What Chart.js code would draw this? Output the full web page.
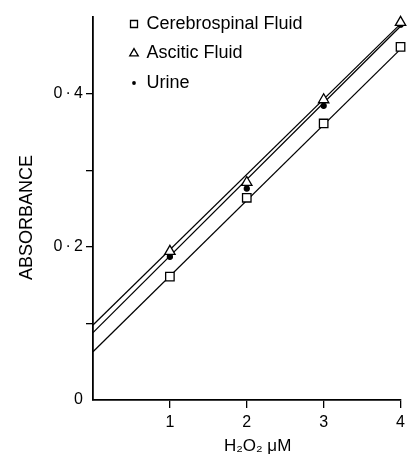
<!DOCTYPE html>
<html>
<head>
<meta charset="utf-8">
<script src="https://cdn.jsdelivr.net/npm/chart.js@4.4.1/dist/chart.umd.min.js"></script>
<style>
html, body { margin: 0; padding: 0; background: #fff; }
#wrap { width: 410px; height: 457px; position: relative; }
</style>
</head>
<body>
<div id="wrap"><canvas id="graph1"></canvas></div>
<script>
// H2O2 concentration (uM)
var concentrations = [1, 2, 3, 4];

// absorbance, per fluid
var csf = [0.161, 0.264, 0.361, 0.461];
var ascitic = [0.194, 0.284, 0.392, 0.493];
var urine = [0.187, 0.276, 0.384, 0.490];

// fitted lines, value at x = 0 and x = 4
var lineX = [0, 4];
var csfLine = [0.063, 0.458];
var asciticLine = [0.098, 0.491];
var urineLine = [0.088, 0.488];

var seriesNames = ["Cerebrospinal Fluid", "Ascitic Fluid", "Urine"];

// axes
var xTicks = [1, 2, 3, 4];
var xTickLabels = ["1", "2", "3", "4"];
var yTicks = [0, 0.1, 0.2, 0.3, 0.4];
var yTickLabels = ["0", "", "0\u2009\u00b7\u20092", "", "0\u2009\u00b7\u20094"];

function toPoints(xs, ys) {
    return xs.map(function (x, i) { return { x: x, y: ys[i] }; });
}

//petit point noir pour la légende "Urine"
var dotMark = document.createElement("canvas");
dotMark.width = 6;
dotMark.height = 6;
var dctx = dotMark.getContext("2d");
dctx.fillStyle = "#000";
dctx.beginPath();
dctx.arc(3, 3, 1.9, 0, 2 * Math.PI);
dctx.fill();

function pointSet(label, ys, style, radius, fill) {
    return {
        label: label,
        data: toPoints(concentrations, ys),
        showLine: false,
        pointStyle: style,
        pointRadius: radius,
        pointHoverRadius: radius,
        pointBackgroundColor: fill,
        pointBorderColor: "#000",
        pointBorderWidth: 1.3,
        backgroundColor: fill,
        borderColor: "#000",
        borderWidth: 1.3,
        clip: false
    };
}

function lineSet(label, ys) {
    return {
        label: label,
        data: toPoints(lineX, ys),
        showLine: true,
        pointRadius: 0,
        borderColor: "#000",
        borderWidth: 1.25,
        clip: false
    };
}

// legend placed inside the plot, top left
var legendSpot = {
    id: "legendSpot",
    afterLayout: function (chart) {
        chart.legend.left = 119;
        chart.legend.top = 3.5;
    }
};

Chart.defaults.font.family = "'Liberation Sans', Arial, sans-serif";
Chart.defaults.color = "#000";

var ctx = document.getElementById("graph1").getContext("2d");
const myChart = new Chart(ctx, {
    type: "scatter",
    data: {
        datasets: [
            pointSet(seriesNames[0], csf, "rect", 6, "#fff"),
            pointSet(seriesNames[1], ascitic, "triangle", 6, "#fff"),
            pointSet(seriesNames[2], urine, "circle", 2.5, "#000"),
            lineSet("csf fit", csfLine),
            lineSet("ascitic fit", asciticLine),
            lineSet("urine fit", urineLine)
        ]
    },
    plugins: [legendSpot],
    options: {
        responsive: true,
        maintainAspectRatio: false,
        animation: false,
        layout: { padding: { left: 0, right: 6, top: 17, bottom: 0 } },
        plugins: {
            tooltip: { enabled: false },
            legend: {
                position: "chartArea",
                align: "start",
                labels: {
                    usePointStyle: true,
                    boxWidth: 7,
                    boxHeight: 7,
                    padding: 11.5,
                    color: "#000",
                    font: { size: 18 },
                    generateLabels: function (chart) {
                        var items = Chart.defaults.plugins.legend.labels.generateLabels(chart).slice(0, 3);
                        items[2].pointStyle = dotMark;
                        return items;
                    }
                }
            }
        },
        scales: {
            x: {
                type: "linear",
                min: 0,
                max: 4,
                afterBuildTicks: function (scale) {
                    scale.ticks = xTicks.map(function (v) { return { value: v }; });
                },
                afterFit: function (scale) { scale.height = 57; },
                ticks: {
                    autoSkip: false,
                    maxRotation: 0,
                    padding: 5,
                    font: { size: 16 },
                    color: "#000",
                    callback: function (value, index) { return xTickLabels[index]; }
                },
                grid: {
                    drawOnChartArea: false,
                    drawTicks: true,
                    tickLength: 8,
                    color: "#000",
                    lineWidth: 1.3
                },
                border: { display: true, color: "#000", width: 1.8 },
                title: {
                    display: true,
                    text: "\u2002\u2002 H\u2082O\u2082 \u03bcM",
                    font: { size: 17 },
                    color: "#000",
                    padding: { top: 0, bottom: 0 }
                }
            },
            y: {
                type: "linear",
                min: 0,
                max: 0.5,
                afterBuildTicks: function (scale) {
                    scale.ticks = yTicks.map(function (v) { return { value: v }; });
                },
                afterFit: function (scale) { scale.width = 93; },
                ticks: {
                    autoSkip: false,
                    padding: 3,
                    font: { size: 16 },
                    color: "#000",
                    callback: function (value, index) { return yTickLabels[index]; }
                },
                grid: {
                    drawOnChartArea: false,
                    drawTicks: true,
                    tickLength: 7,
                    lineWidth: 1.3,
                    color: function (c) {
                        return c.tick && c.tick.value === 0 ? "rgba(0,0,0,0)" : "#000";
                    }
                },
                border: { display: true, color: "#000", width: 1.8 },
                title: {
                    display: true,
                    text: "ABSORBANCE\u2002\u2002",
                    font: { size: 18 },
                    color: "#000",
                    padding: { top: 16, bottom: 0 }
                }
            }
        }
    }
});
</script>
</body>
</html>
